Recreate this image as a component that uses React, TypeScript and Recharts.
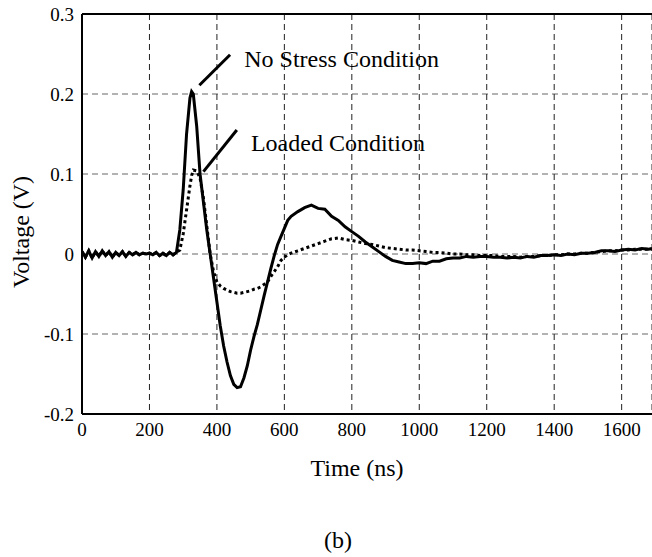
import React from 'react';
import {
  LineChart,
  Line,
  XAxis,
  YAxis,
  CartesianGrid,
  ReferenceLine,
  ReferenceDot,
} from 'recharts';

const times = [
  0, 10, 20, 30, 40, 50, 60, 70, 80, 90, 100, 110, 120, 130, 140, 150, 160, 170, 180, 190,
  200, 210, 220, 230, 240, 250, 260, 270, 280, 290, 300, 310, 320, 325, 330, 340, 350, 360,
  370, 380, 390, 400, 410, 420, 430, 440, 450, 460, 470, 480, 490, 500, 510, 520, 530, 540,
  550, 560, 570, 580, 590, 600, 610, 620, 640, 660, 680, 700, 720, 740, 760, 780, 800, 820,
  840, 860, 880, 900, 920, 940, 960, 980, 1000, 1020, 1040, 1060, 1080, 1100, 1120, 1140,
  1160, 1180, 1200, 1220, 1240, 1260, 1280, 1300, 1320, 1340, 1360, 1380, 1400, 1420, 1440,
  1460, 1480, 1500, 1520, 1540, 1560, 1580, 1600, 1620, 1640, 1660, 1680, 1690,
];

const noStress = [
  0.003, -0.004, 0.004, -0.005, 0.003, -0.003, 0.004, -0.002, 0.003, -0.004, 0.002, -0.002,
  0.003, -0.003, 0.002, -0.001, 0.002, -0.001, 0.001, 0.0, 0.001, -0.001, 0.002, -0.002,
  0.001, -0.002, 0.002, -0.001, 0.002,
  0.03, 0.08, 0.15, 0.195, 0.203,
  0.2, 0.16, 0.1, 0.065, 0.03, 0.0, -0.03, -0.06, -0.09, -0.115, -0.135, -0.152, -0.163,
  -0.167, -0.166, -0.155, -0.14, -0.12, -0.103, -0.088, -0.07, -0.052, -0.035, -0.018,
  -0.002, 0.012, 0.022, 0.032, 0.042, 0.047,
  0.053, 0.058, 0.061, 0.057, 0.056, 0.047, 0.042, 0.034, 0.028, 0.022,
  0.015, 0.009, 0.003, -0.003, -0.008, -0.01, -0.012, -0.012, -0.011, -0.012,
  -0.009, -0.009, -0.006, -0.005, -0.005, -0.003, -0.004, -0.003, -0.003, -0.004,
  -0.004, -0.005, -0.004, -0.005, -0.003, -0.004, -0.002, -0.002, -0.001, -0.002,
  0.0, -0.001, 0.001, 0.001, 0.002, 0.004, 0.004, 0.003, 0.005, 0.006,
  0.005, 0.007, 0.006, 0.007,
];

const loaded = [
  0.003, -0.004, 0.004, -0.005, 0.003, -0.003, 0.004, -0.002, 0.003, -0.004, 0.002, -0.002,
  0.003, -0.003, 0.002, -0.001, 0.002, -0.001, 0.001, 0.0, 0.001, -0.001, 0.002, -0.002,
  0.001, -0.002, 0.002, -0.001, 0.002,
  0.005, 0.025, 0.055, 0.085, 0.098,
  0.105, 0.104, 0.095, 0.07, 0.035, 0.0, -0.022, -0.035, -0.04, -0.043, -0.045, -0.047,
  -0.048, -0.049, -0.049, -0.048, -0.047, -0.046, -0.044, -0.043, -0.041, -0.038, -0.035,
  -0.028, -0.022, -0.016, -0.008, -0.004, -0.001, 0.001,
  0.004, 0.007, 0.01, 0.013, 0.016, 0.019, 0.02, 0.018, 0.017, 0.015,
  0.013, 0.012, 0.01, 0.008, 0.007, 0.006, 0.005, 0.005, 0.004, 0.003,
  0.002, 0.002, 0.001, 0.0, 0.0, -0.001, -0.001, -0.002, -0.002, -0.002,
  -0.003, -0.003, -0.003, -0.004, -0.003, -0.003, -0.002, -0.002, -0.001, -0.001,
  0.0, 0.0, 0.001, 0.001, 0.002, 0.003, 0.004, 0.004, 0.005, 0.005,
  0.006, 0.006, 0.006, 0.006,
];

const xTicks = [0, 200, 400, 600, 800, 1000, 1200, 1400, 1600];
const yTicks = [-0.2, -0.1, 0, 0.1, 0.2, 0.3];

const data = times.map((t, i) => ({ t, noStress: noStress[i], loaded: loaded[i] }));

const serif = '"Liberation Serif", "Times New Roman", serif';

const fmtY = (v: number) => {
  const r = Math.round(v * 10) / 10;
  return r === 0 ? '0' : String(r);
};

export default function App() {
  return (
    <div style={{ position: 'absolute', left: 0, top: 0, width: 652, height: 557, background: '#fff', fontFamily: serif }}>
      <LineChart
        width={652}
        height={557}
        data={data}
        margin={{ top: 14, right: 0, bottom: 73, left: 0 }}
      >
        <CartesianGrid vertical={false} stroke="#666" strokeDasharray="6 4" />
        <CartesianGrid horizontal={false} stroke="#222" strokeDasharray="6 4" />
        <XAxis
          type="number"
          dataKey="t"
          domain={[0, 1690]}
          ticks={xTicks}
          allowDataOverflow
          height={70}
          tickSize={0}
          tickMargin={9}
          axisLine={{ stroke: '#000', strokeWidth: 2 }}
          tick={{ fill: '#000', fontSize: 19, fontFamily: serif }}
          label={{ value: 'Time (ns)', position: 'insideBottom', offset: 8, dx: -10, fill: '#000', fontSize: 24, fontFamily: serif }}
        />
        <YAxis
          type="number"
          domain={[-0.2, 0.3]}
          ticks={yTicks}
          allowDataOverflow
          width={82}
          tickSize={0}
          tickMargin={8}
          tickFormatter={fmtY}
          axisLine={{ stroke: '#000', strokeWidth: 2 }}
          tick={{ fill: '#000', fontSize: 19, fontFamily: serif }}
          label={{ value: 'Voltage (V)', angle: -90, position: 'insideLeft', offset: 20, dy: 18, fill: '#000', fontSize: 24, fontFamily: serif, style: { textAnchor: 'middle' } }}
        />
        <ReferenceLine y={0.3} stroke="#000" strokeWidth={2} />
        <ReferenceLine segment={[{ x: 348, y: 0.211 }, { x: 439, y: 0.249 }]} stroke="#000" strokeWidth={3} />
        <ReferenceLine segment={[{ x: 360, y: 0.103 }, { x: 459, y: 0.155 }]} stroke="#000" strokeWidth={3} />
        <ReferenceDot
          x={478}
          y={0.245}
          r={1}
          fill="none"
          stroke="none"
          label={{ value: 'No Stress Condition', position: 'right', offset: 0, fill: '#000', fontSize: 24, fontFamily: serif }}
        />
        <ReferenceDot
          x={498}
          y={0.14}
          r={1}
          fill="none"
          stroke="none"
          label={{ value: 'Loaded Condition', position: 'right', offset: 0, fill: '#000', fontSize: 24, fontFamily: serif }}
        />
        <Line
          type="linear"
          dataKey="loaded"
          stroke="#000"
          strokeWidth={3}
          strokeDasharray="3 3"
          dot={false}
          isAnimationActive={false}
        />
        <Line
          type="linear"
          dataKey="noStress"
          stroke="#000"
          strokeWidth={3}
          dot={false}
          isAnimationActive={false}
        />
      </LineChart>
      <div
        style={{
          position: 'absolute',
          left: 0,
          width: 676,
          top: 526,
          textAlign: 'center',
          fontSize: 24,
          lineHeight: '28px',
          color: '#000',
        }}
      >
        (b)
      </div>
    </div>
  );
}
